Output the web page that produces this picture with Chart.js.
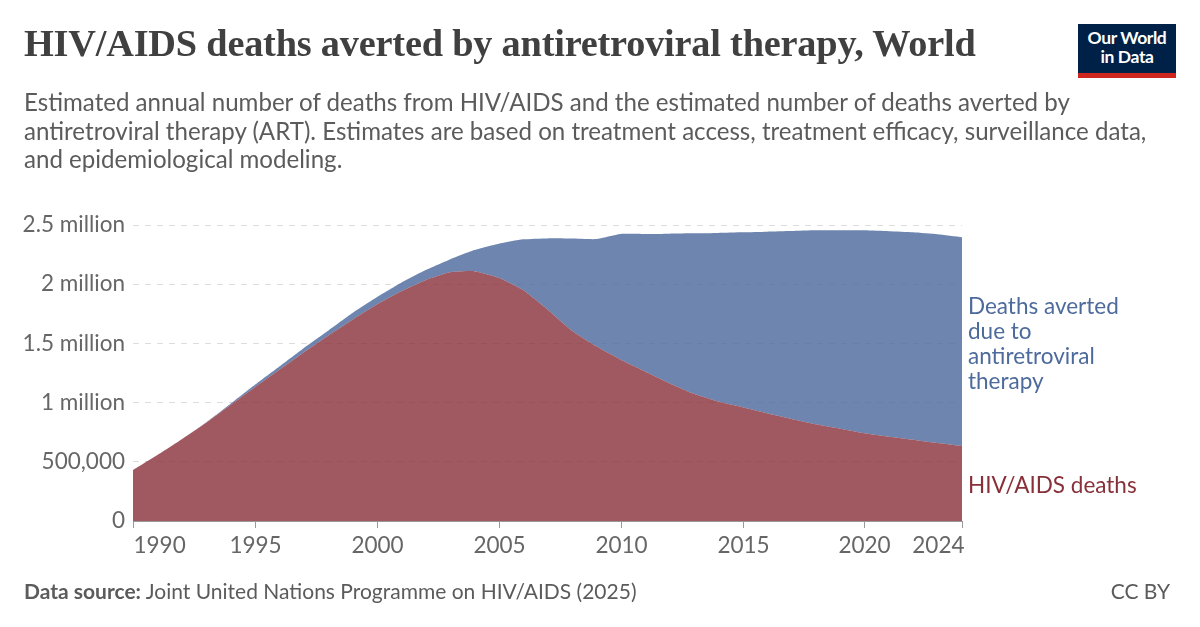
<!DOCTYPE html>
<html>
<head>
<meta charset="utf-8">
<script src="https://cdn.jsdelivr.net/npm/chart.js@4"></script>
<style>
  html, body { margin:0; padding:0; background:#fff; }
  body { width:1200px; height:627px; position:relative; overflow:hidden; font-family:Lato, sans-serif; }
  #chart { position:absolute; left:0; top:0; }
  .title { position:absolute; left:24px; top:21px; font-family:"Liberation Serif", serif; font-weight:700; font-size:38.3px; color:#404040; white-space:nowrap; letter-spacing:-0.2px; }
  .subtitle { position:absolute; left:24px; top:88px; font-size:24.1px; line-height:28.5px; color:#5b5b5b; white-space:nowrap; }
  .logo { position:absolute; left:1078px; top:24px; width:98px; height:54px; background:#002147; color:#fff; box-sizing:border-box; border-bottom:5px solid #ce261e; font-weight:700; font-size:17.5px; line-height:19px; text-align:center; padding-top:4px; letter-spacing:-0.4px; }
  .lbl { position:absolute; left:968px; font-size:22.5px; line-height:25px; white-space:nowrap; }
  .blue { top:293px; color:#4c6a9c; }
  .red { top:472px; color:#883039; }
  .foot { position:absolute; top:578px; font-size:21px; color:#5b5b5b; white-space:nowrap; }
</style>
</head>
<body>
<canvas id="chart" width="1200" height="627"></canvas>
<div class="title">HIV/AIDS deaths averted by antiretroviral therapy, World</div>
<div class="subtitle">Estimated annual number of deaths from HIV/AIDS and the estimated number of deaths averted by<br>antiretroviral therapy (ART). Estimates are based on treatment access, treatment efficacy, surveillance data,<br>and epidemiological modeling.</div>
<div class="logo">Our World<br>in Data</div>
<div class="lbl blue">Deaths averted<br>due to<br>antiretroviral<br>therapy</div>
<div class="lbl red">HIV/AIDS deaths</div>
<div class="foot" style="left:24px"><b>Data source:</b> Joint United Nations Programme on HIV/AIDS (2025)</div>
<div class="foot" style="right:30px">CC BY</div>
<script>
const years = [1990,1991,1992,1993,1994,1995,1996,1997,1998,1999,2000,2001,2002,2003,2004,2005,2006,2007,2008,2009,2010,2011,2012,2013,2014,2015,2016,2017,2018,2019,2020,2021,2022,2023,2024];
// millions
const deaths = [0.43,0.557,0.69,0.83,0.98,1.13,1.277,1.424,1.565,1.70,1.828,1.94,2.034,2.10,2.11,2.054,1.95,1.786,1.607,1.475,1.362,1.263,1.164,1.074,1.009,0.961,0.91,0.862,0.817,0.78,0.741,0.712,0.686,0.658,0.633];
const averted = [0,0,0,0.002,0.01,0.02,0.028,0.036,0.042,0.057,0.062,0.072,0.085,0.109,0.178,0.288,0.429,0.601,0.778,0.906,1.062,1.161,1.263,1.356,1.424,1.477,1.534,1.587,1.638,1.675,1.714,1.735,1.752,1.763,1.763];
const xTicks = [1990,1995,2000,2005,2010,2015,2020,2024];
const yTicks = [0,500000,1000000,1500000,2000000,2500000];
const yLabels = ['0','500,000','1 million','1.5 million','2 million','2.5 million'];

const pts = arr => years.map((y,i)=>({ x:y, y:arr[i]*1e6 }));

const xAxisLabels = {
  id:'xAxisLabels',
  afterDraw(chart){
    const {ctx, chartArea} = chart, sx = chart.scales.x;
    ctx.save();
    ctx.strokeStyle = '#999'; ctx.lineWidth = 1;
    ctx.fillStyle = '#666'; ctx.font = '22.5px Lato'; ctx.textBaseline = 'middle';
    xTicks.forEach((t,i)=>{
      const x = Math.round(sx.getPixelForValue(t)) + 0.5;
      ctx.beginPath(); ctx.moveTo(x, chartArea.bottom); ctx.lineTo(x, chartArea.bottom+7); ctx.stroke();
      ctx.textAlign = i===0 ? 'left' : (i===xTicks.length-1 ? 'right' : 'center');
      ctx.fillText(String(t), i===0 ? x : (i===xTicks.length-1 ? x+2 : x), chartArea.bottom+25);
    });
    ctx.restore();
  }
};

new Chart(document.getElementById('chart').getContext('2d'), {
  type:'line',
  data:{ datasets:[
    { label:'HIV/AIDS deaths', data:pts(deaths), fill:'origin', backgroundColor:'rgba(136,48,57,0.8)', borderWidth:0, pointRadius:0, tension:0.15 },
    { label:'Deaths averted due to antiretroviral therapy', data:pts(averted), fill:'-1', backgroundColor:'rgba(76,106,156,0.81)', borderWidth:0, pointRadius:0, tension:0.15 }
  ]},
  options:{
    responsive:false, animation:false, devicePixelRatio:1,
    layout:{ padding:{ top:225, left:0, right:238, bottom:106 } },
    plugins:{ legend:{display:false}, tooltip:{enabled:false} },
    scales:{
      x:{ type:'linear', min:1990, max:2024,
        ticks:{ display:false }, grid:{ display:false, drawTicks:false },
        border:{ display:true, color:'#999', width:1 },
        afterFit(s){ s.height = 0; } },
      y:{ stacked:true, min:0, max:2500000,
        afterBuildTicks(s){ s.ticks = yTicks.map(v=>({value:v})); },
        ticks:{ color:'#666', font:{ family:'Lato', size:22.5 }, padding:8,
          callback:(v)=> yLabels[yTicks.indexOf(v)] ?? '' },
        grid:{ color:(c)=> c.tick && c.tick.value===0 ? 'rgba(0,0,0,0)' : '#ddd', drawTicks:false, lineWidth:1 },
        border:{ display:false, dash:[6,6] },
        afterFit(s){ s.width = 133; } }
    }
  },
  plugins:[xAxisLabels]
});
</script>
</body>
</html>
